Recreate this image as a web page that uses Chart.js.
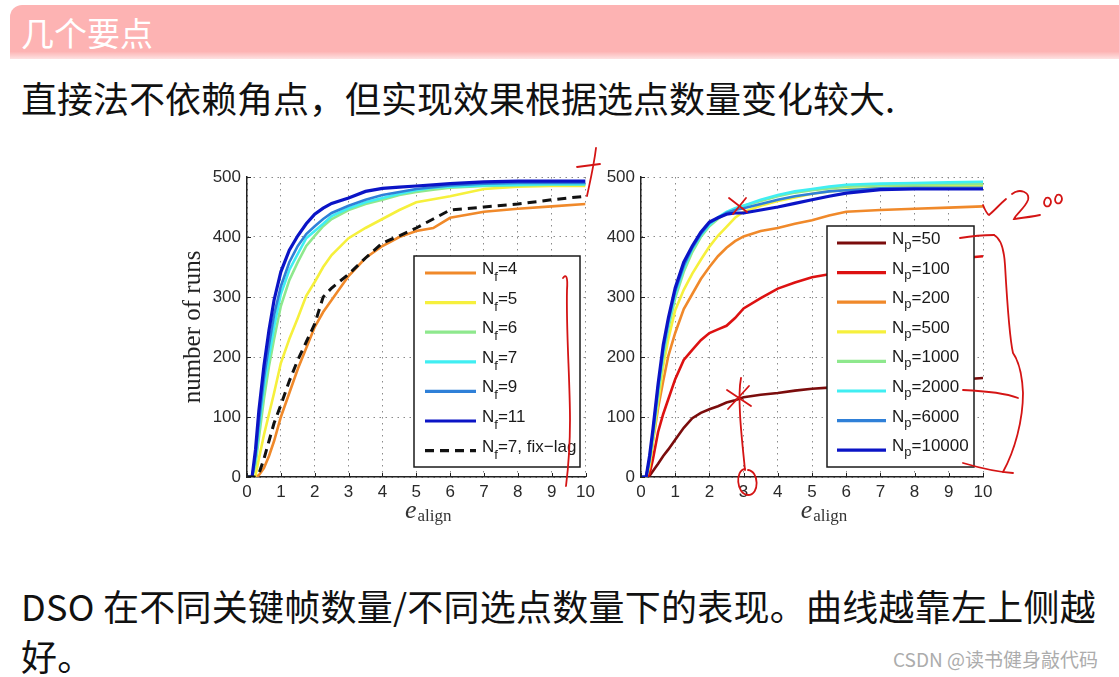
<!DOCTYPE html>
<html><head><meta charset="utf-8">
<script src="https://cdn.jsdelivr.net/npm/chart.js@4.4.1/dist/chart.umd.min.js"></script>
<style>
html,body{margin:0;padding:0;background:#fff;}
body{width:1119px;height:677px;position:relative;overflow:hidden;font-family:"Noto Sans CJK SC",sans-serif;}
#hdr{position:absolute;left:10px;top:5px;width:1120px;height:54px;background:linear-gradient(to bottom,#fdb3b3 0%,#fdb3b3 86%,#fde2e2 100%);border-top-left-radius:12px;}
#hdr span{position:absolute;left:11px;top:0;line-height:54px;font-size:33px;color:#fff;}
.txt{position:absolute;left:21px;font-size:36px;color:#111;white-space:nowrap;line-height:50px;}
canvas{position:absolute;}
#wm{position:absolute;left:893px;top:645px;font-size:19px;color:#acacac;white-space:nowrap;}
svg{position:absolute;left:0;top:0;pointer-events:none;}
</style></head>
<body>
<div id="hdr"><span>几个要点</span></div>
<div class="txt" style="top:72px">直接法不依赖角点，但实现效果根据选点数量变化较大.</div>
<canvas id="cL" width="430" height="380" style="left:170px;top:160px;width:430px;height:380px"></canvas>
<canvas id="cR" width="430" height="380" style="left:590px;top:160px;width:430px;height:380px"></canvas>
<div class="txt" style="top:580px;letter-spacing:0.25px">DSO 在不同关键帧数量/不同选点数量下的表现。曲线越靠左上侧越<br>好。</div>
<div id="wm">CSDN @读书健身敲代码</div>
<svg width="1119" height="677" viewBox="0 0 1119 677">
<g fill="none" stroke="#d41414" stroke-width="1.8" stroke-linecap="round">
<path d="M563,278 C566,274 568,276 567,290 C566,330 570,380 570,420 C570,450 568,470 566,486"/>
<path d="M577,167 C585,166 592,165 600,164"/>
<path d="M596,148 C594,165 590,182 587,196"/>
<path d="M729,198 L747,212"/><path d="M746,198 L733,214"/>
<path d="M727,390 L751,406"/><path d="M749,386 L728,409"/>
<path d="M741,378 C737,398 742,440 745,470"/>
<path d="M745,469 C735,470 736,494 748,495 C760,495 759,471 748,470"/>
<path d="M983,205 C985,210 987,214 989,215 C995,210 1000,204 1006,199"/>
<path d="M1012,194 C1020,188 1030,192 1028,200 C1025,208 1016,214 1014,219 C1022,218 1030,217 1040,215"/>
<path d="M1046,198 C1042,203 1045,208 1049,206 C1053,202 1050,196 1046,198"/>
<path d="M1057,195 C1053,200 1056,205 1060,203 C1064,199 1061,193 1057,195"/>
<path d="M960,238 C972,236 985,235 994,235"/>
<path d="M994,235 C1000,238 1004,248 1005,265 C1007,300 1010,340 1013,353 C1018,360 1022,370 1023,393 C1023,420 1015,450 1003,472"/>
<path d="M963,390 C985,391 1005,393 1018,398"/>
<path d="M963,463 C980,468 998,472 1013,473"/>
</g>
</svg>
<script>
// ---------- data ----------
const xsLeft  = [0, 0.15, 0.25, 0.35, 0.5, 0.65, 0.8, 1.0, 1.25, 1.5, 1.75, 2.0, 2.25, 2.5, 3.0, 3.5, 4.0, 4.5, 5.0, 5.5, 6.0, 7.0, 8.0, 9.0, 10.0];
const nf4     = [0, 0, 0, 3, 15, 35, 60, 100, 140, 180, 215, 250, 275, 295, 335, 365, 385, 400, 410, 415, 432, 442, 447, 451, 455];
const nf5     = [0, 0, 2, 30, 70, 105, 140, 190, 230, 265, 302, 325, 350, 370, 398, 415, 430, 445, 458, 463, 468, 480, 484, 485, 485];
const nf6     = [0, 0, 20, 65, 130, 185, 230, 285, 328, 358, 385, 402, 418, 430, 445, 455, 462, 470, 475, 479, 482, 485, 486, 487, 487];
const nf7     = [0, 0, 30, 80, 150, 200, 250, 305, 345, 372, 398, 410, 422, 435, 448, 458, 465, 472, 478, 482, 484, 486, 487, 488, 488];
const nf9     = [0, 0, 35, 90, 165, 220, 270, 318, 358, 385, 405, 418, 430, 440, 452, 462, 470, 475, 480, 483, 486, 489, 490, 490, 490];
const nf11    = [0, 0, 45, 110, 185, 245, 295, 342, 378, 402, 422, 438, 448, 456, 465, 476, 481, 483, 485, 487, 489, 492, 493, 493, 493];
const nf7fix  = [0, 0, 0, 5, 30, 60, 90, 120, 160, 195, 225, 255, 300, 315, 338, 365, 390, 402, 415, 430, 445, 450, 455, 462, 468];
const leftSuffix = ['=4', '=5', '=6', '=7', '=9', '=11', '=7, fix\u2212lag'];

const xsRight = [0, 0.15, 0.25, 0.35, 0.5, 0.65, 0.8, 1.0, 1.25, 1.5, 1.75, 2.0, 2.25, 2.5, 2.75, 3.0, 3.5, 4.0, 4.5, 5.0, 5.5, 6.0, 7.0, 8.0, 9.0, 10.0];
const np50    = [0, 0, 2, 10, 22, 35, 46, 62, 82, 98, 107, 113, 118, 124, 128, 133, 137, 140, 144, 147, 149, 151, 155, 158, 161, 165];
const np100   = [0, 0, 5, 30, 75, 105, 130, 163, 195, 212, 228, 240, 246, 252, 265, 281, 298, 314, 324, 333, 338, 343, 350, 357, 363, 368];
const np200   = [0, 0, 15, 60, 115, 160, 202, 240, 280, 305, 330, 350, 368, 382, 393, 401, 410, 415, 422, 428, 436, 442, 445, 447, 449, 451];
const np500   = [0, 0, 20, 60, 125, 185, 230, 278, 312, 339, 362, 384, 402, 417, 432, 442, 452, 460, 466, 472, 476, 479, 482, 484, 485, 485];
const np1000  = [0, 0, 25, 65, 135, 198, 248, 298, 342, 375, 400, 418, 430, 440, 447, 452, 460, 468, 474, 478, 481, 484, 486, 487, 488, 488];
const np2000  = [0, 0, 30, 72, 145, 208, 255, 305, 348, 380, 403, 420, 433, 442, 448, 452, 462, 470, 476, 480, 484, 487, 489, 490, 491, 492];
const np6000  = [0, 0, 30, 75, 150, 212, 260, 310, 352, 382, 405, 423, 432, 440, 445, 448, 455, 462, 468, 472, 476, 478, 481, 482, 482, 482];
const np10000 = [0, 0, 35, 80, 155, 220, 265, 315, 358, 385, 408, 425, 432, 438, 440, 440, 445, 450, 456, 462, 468, 473, 479, 480, 480, 480];
const rightSuffix = ['=50', '=100', '=200', '=500', '=1000', '=2000', '=6000', '=10000'];

const xTickMin = 0, xTickMax = 10, xStep = 1;
const yTickMin = 0, yTickMax = 500, yStep = 100;

// ---------- helpers ----------
function pts(xs, ys){ return xs.map((x,i)=>({x:x, y:ys[i]})); }
function ds(xs, ys, color, width, dash){
  return {data: pts(xs, ys), borderColor: color, borderWidth: width, borderDash: dash||[], pointRadius: 0, tension: 0, fill: false};
}

const deco = {
  id: 'deco',
  afterDraw(chart, args, o){
    const ctx = chart.ctx, a = chart.chartArea;
    const xs = chart.scales.x, ys = chart.scales.y;
    ctx.save();
    // inward ticks
    ctx.strokeStyle = '#222'; ctx.lineWidth = 1;
    xs.ticks.forEach(t=>{ const p = Math.round(xs.getPixelForValue(t.value))+0.5; ctx.beginPath(); ctx.moveTo(p, a.bottom); ctx.lineTo(p, a.bottom-4); ctx.stroke(); });
    ys.ticks.forEach(t=>{ const p = Math.round(ys.getPixelForValue(t.value))+0.5; ctx.beginPath(); ctx.moveTo(a.left, p); ctx.lineTo(a.left+4, p); ctx.stroke(); });
    // legend box
    const L = o.legend;
    const x0 = a.left + L.dx, y0 = a.top + L.dy;
    ctx.fillStyle = '#fff'; ctx.fillRect(x0, y0, L.w, L.h);
    ctx.strokeStyle = '#1a1a1a'; ctx.lineWidth = 1.5; ctx.strokeRect(x0, y0, L.w, L.h);
    chart.data.datasets.forEach((d, i)=>{
      const y = y0 + L.first + i*L.step;
      ctx.beginPath(); ctx.setLineDash(d.borderDash && d.borderDash.length ? [9,6] : []);
      ctx.strokeStyle = d.borderColor; ctx.lineWidth = 3.2;
      ctx.moveTo(x0+L.lx1, y); ctx.lineTo(x0+L.lx2, y); ctx.stroke(); ctx.setLineDash([]);
      ctx.fillStyle = '#1a1a1a'; ctx.textAlign = 'left'; ctx.textBaseline = 'alphabetic';
      let tx = x0 + L.tx;
      ctx.font = '17px "Liberation Sans"'; ctx.fillText('N', tx, y+1); tx += ctx.measureText('N').width;
      ctx.font = '13px "Liberation Sans"'; ctx.fillText(L.sub, tx, y+L.subDy); tx += ctx.measureText(L.sub).width;
      ctx.font = '17px "Liberation Sans"'; ctx.fillText(L.labels[i], tx, y+1);
    });
    // x title e_align
    ctx.fillStyle = '#333';
    ctx.font = 'italic 26px "Liberation Serif"'; const w1 = ctx.measureText('e').width;
    ctx.font = '17px "Liberation Serif"'; const w2 = ctx.measureText('align').width;
    const cx = (a.left + a.right)/2 + 12 - (w1 + w2 + 1)/2;
    ctx.font = 'italic 26px "Liberation Serif"'; ctx.fillText('e', cx, a.bottom + 41);
    ctx.font = '17px "Liberation Serif"'; ctx.fillText('align', cx + w1 + 1, a.bottom + 44);
    // y title
    if (o.ytitle){
      ctx.translate(a.left - 47, (a.top + a.bottom)/2);
      ctx.rotate(-Math.PI/2);
      ctx.textAlign = 'center'; ctx.font = '25px "Liberation Serif"'; ctx.fillStyle = '#222';
      ctx.fillText(o.ytitle, 0, 0);
    }
    ctx.restore();
  }
};

function makeChart(id, datasets, yWidth, padRight, legend, ytitle){
  const n = datasets.length;
  datasets.forEach((d,i)=>{ d.order = n - i; });
  return new Chart(document.getElementById(id), {
    type: 'line',
    data: {datasets: datasets},
    plugins: [deco],
    options: {
      responsive: false, animation: false, devicePixelRatio: 1,
      layout: {padding: {top: 17, right: padRight, bottom: 0, left: 0}},
      plugins: {legend: {display: false}, tooltip: {enabled: false}, deco: {legend: legend, ytitle: ytitle}},
      scales: {
        x: {type: 'linear', min: xTickMin, max: xTickMax,
            ticks: {stepSize: xStep, padding: 5, maxRotation: 0, color: '#2a2a2a', font: {family: 'Liberation Sans', size: 17}},
            grid: {color: '#8a8a8a', lineWidth: 1, drawTicks: false},
            border: {display: true, color: '#222', width: 1.5, dash: [1.5, 4.5]},
            afterFit(s){ s.height = 63; }},
        y: {type: 'linear', min: yTickMin, max: yTickMax,
            ticks: {stepSize: yStep, padding: 6, color: '#2a2a2a', font: {family: 'Liberation Sans', size: 17}},
            grid: {color: '#8a8a8a', lineWidth: 1, drawTicks: false},
            border: {display: true, color: '#222', width: 1.5, dash: [1.5, 4.5]},
            afterFit(s){ s.width = yWidth; }}
      }
    }
  });
}

makeChart('cL', [
  ds(xsLeft, nf4,  '#f0892a', 2.6),
  ds(xsLeft, nf5,  '#f6f03c', 2.6),
  ds(xsLeft, nf6,  '#8ee88d', 2.6),
  ds(xsLeft, nf7,  '#40eef2', 2.6),
  ds(xsLeft, nf9,  '#2f80d8', 2.6),
  ds(xsLeft, nf11, '#0b14c6', 3.2),
  ds(xsLeft, nf7fix, '#111111', 3, [9, 6])
], 77, 12, {dx: 167, dy: 79, w: 166, h: 211, first: 17, step: 29.6, lx1: 11, lx2: 62, tx: 68, sub: 'f', subDy: 8, labels: leftSuffix}, 'number of runs');

makeChart('cR', [
  ds(xsRight, np50,   '#7b0c0c', 2.6),
  ds(xsRight, np100,  '#dd1111', 2.6),
  ds(xsRight, np200,  '#f0892a', 2.6),
  ds(xsRight, np500,  '#f6f03c', 2.6),
  ds(xsRight, np1000, '#8ee88d', 2.6),
  ds(xsRight, np2000, '#40eef2', 2.6),
  ds(xsRight, np6000, '#2f80d8', 2.6),
  ds(xsRight, np10000,'#0b14c6', 3.2)
], 51, 37, {dx: 186, dy: 49, w: 147, h: 241, first: 17, step: 29.6, lx1: 10, lx2: 59, tx: 65, sub: 'p', subDy: 6, labels: rightSuffix}, null);
</script>
</body></html>
